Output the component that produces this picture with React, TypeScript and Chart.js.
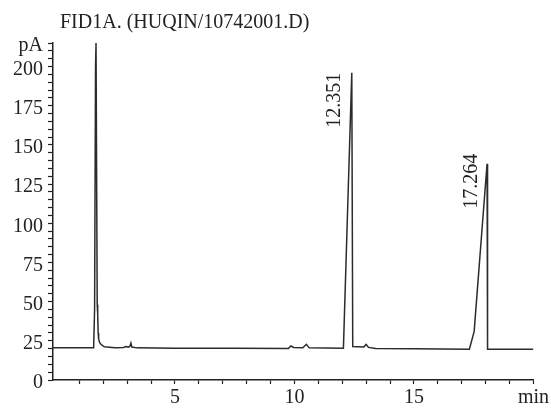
import React, { useEffect, useRef } from 'react';
import { Chart, registerables } from 'chart.js';

Chart.register(...registerables);

// ---- data ----
const TITLE = 'FID1A. (HUQIN/10742001.D)';
const times = [
  -0.1, 1.6, 1.64, 1.68, 1.7, 1.73, 1.75, 1.77, 1.79, 1.81, 1.85, 1.92, 2.05, 2.5,
  2.85, 2.95, 3.05, 3.12, 3.16, 3.2, 3.4, 5.0, 7.5, 9.75, 9.85, 9.97, 10.35, 10.5,
  10.62, 12.05, 12.4, 12.44, 12.9, 13.0, 13.1, 13.4, 15.0, 17.32, 17.52, 18.06,
  18.08, 20.0,
];
const signal = [
  20.5, 20.5, 45, 200, 215, 215, 48, 42, 30, 26, 24, 22.5, 21.2, 20.6,
  20.8, 21.4, 21.0, 21.6, 23.6, 21.0, 20.5, 20.3, 20.2, 20.1, 21.7, 20.8, 20.6, 22.8,
  20.5, 20.3, 196, 21.3, 21.0, 22.7, 20.8, 20.1, 19.9, 19.6, 31, 138,
  19.6, 19.6,
];
const peakLabels = ['12.351', '17.264'];
const peakTimes = [12.4, 18.06];
const peakHeights = [196, 138];

const yMajorLabels = [0, 25, 50, 75, 100, 125, 150, 175, 200];
const yTopLabel = 'pA';
const xMajorLabels = [5, 10, 15];
const xEndLabel = 'min';
const X_MIN = -0.1;
const X_MAX = 20;
const Y_MIN = 0;
const Y_MAX = 215;
const Y_MINOR_STEP = 5;
const X_MINOR_STEP = 1;

const FONT = "'Liberation Serif', 'DejaVu Serif', serif";
const INK = '#222222';
const LINE = '#2b2b2b';

const annotatePlugin = {
  id: 'annotate',
  afterDraw(chart: any) {
    const { ctx, scales } = chart;
    ctx.save();
    ctx.fillStyle = INK;
    ctx.font = `20px ${FONT}`;
    ctx.textAlign = 'left';
    ctx.textBaseline = 'alphabetic';
    ctx.fillText(TITLE, 60, 28);

    const offsets = [
      { dx: -17, dy: 0 },
      { dx: -15, dy: -10 },
    ];
    peakLabels.forEach((lab, i) => {
      const px = scales.x.getPixelForValue(peakTimes[i]) + offsets[i].dx;
      const py = scales.y.getPixelForValue(peakHeights[i]) + offsets[i].dy;
      ctx.save();
      ctx.translate(px, py);
      ctx.rotate(-Math.PI / 2);
      ctx.textAlign = 'right';
      ctx.textBaseline = 'middle';
      ctx.fillText(lab, 0, 0);
      ctx.restore();
    });
    ctx.restore();
  },
};

export default function App() {
  const ref = useRef<HTMLCanvasElement | null>(null);

  useEffect(() => {
    document.body.style.margin = '0';
    const canvas = ref.current;
    if (!canvas) return;

    const yTicks: number[] = [];
    for (let v = Y_MIN; v < Y_MAX; v += Y_MINOR_STEP) yTicks.push(v);
    yTicks.push(Y_MAX);
    const xTicks: number[] = [];
    for (let v = X_MINOR_STEP; v <= X_MAX; v += X_MINOR_STEP) xTicks.push(v);

    const chart = new Chart(canvas, {
      type: 'line',
      data: {
        datasets: [
          {
            data: times.map((t, i) => ({ x: t, y: signal[i] })),
            borderColor: LINE,
            borderWidth: 1.5,
            pointRadius: 0,
            tension: 0,
            fill: false,
          },
        ],
      },
      options: {
        animation: false,
        responsive: false,
        maintainAspectRatio: false,
        layout: { padding: { top: 43, right: 14, left: 0, bottom: 0 } },
        plugins: {
          legend: { display: false },
          title: { display: false },
          tooltip: { enabled: false },
        },
        scales: {
          x: {
            type: 'linear',
            min: X_MIN,
            max: X_MAX,
            afterBuildTicks: (scale: any) => {
              scale.ticks = xTicks.map((v) => ({ value: v }));
            },
            afterFit: (scale: any) => {
              scale.height = 29;
            },
            ticks: {
              autoSkip: false,
              maxRotation: 0,
              padding: 2,
              color: INK,
              font: { family: FONT, size: 20 },
              callback: (v: any) => {
                if (v === X_MAX) return xEndLabel;
                return xMajorLabels.includes(v) ? String(v) : '';
              },
            },
            grid: {
              display: true,
              drawOnChartArea: false,
              drawTicks: true,
              tickLength: 4,
              tickColor: INK,
              tickWidth: 1.2,
            },
            border: { display: true, color: INK, width: 1.5 },
          },
          y: {
            type: 'linear',
            min: Y_MIN,
            max: Y_MAX,
            afterBuildTicks: (scale: any) => {
              scale.ticks = yTicks.map((v) => ({ value: v }));
            },
            afterFit: (scale: any) => {
              scale.width = 53;
            },
            ticks: {
              autoSkip: false,
              padding: 5,
              labelOffset: 3,
              color: INK,
              font: { family: FONT, size: 20 },
              callback: (v: any) => {
                if (v === Y_MAX) return yTopLabel;
                return yMajorLabels.includes(v) ? String(v) : '';
              },
            },
            grid: {
              display: true,
              drawOnChartArea: false,
              drawTicks: true,
              tickLength: 5,
              tickColor: INK,
              tickWidth: 1.2,
            },
            border: { display: true, color: INK, width: 1.5 },
          },
        },
      },
      plugins: [annotatePlugin],
    });

    return () => chart.destroy();
  }, []);

  return (
    <div style={{ position: 'absolute', left: 0, top: 0, width: 551, height: 409, background: '#ffffff' }}>
      <canvas ref={ref} width={551} height={409} style={{ display: 'block' }} />
    </div>
  );
}
